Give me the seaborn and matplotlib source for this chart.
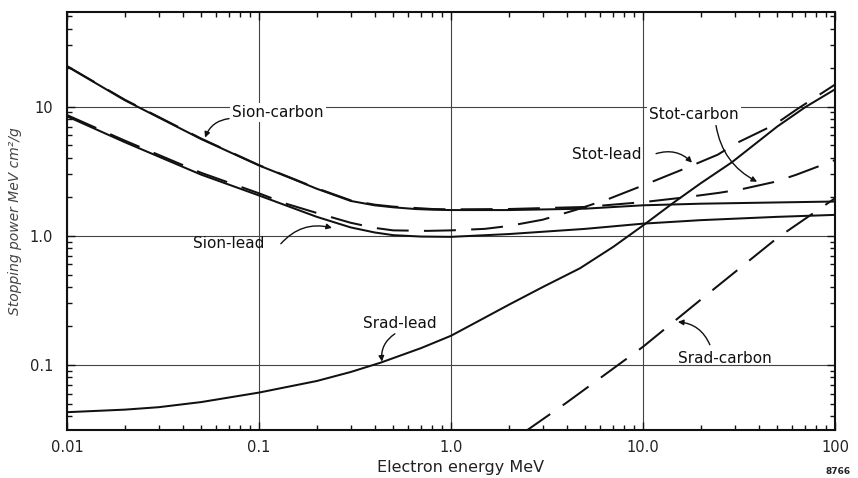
import matplotlib
matplotlib.use("Agg")
import numpy as np
import pandas as pd
import matplotlib.pyplot as plt
import seaborn as sns

# ---------------- data ----------------
energy_sion_carbon = [0.01, 0.02, 0.05, 0.1, 0.15, 0.2, 0.3, 0.4, 0.5, 0.65, 0.8, 1.0, 2.0, 5.0, 10, 20, 50, 100]
power_sion_carbon = [20.5, 11.2, 5.6, 3.5, 2.75, 2.31, 1.86, 1.72, 1.66, 1.61, 1.59, 1.58, 1.58, 1.62, 1.72, 1.77, 1.81, 1.84]

energy_stot_carbon = [0.01, 0.02, 0.05, 0.1, 0.15, 0.2, 0.3, 0.4, 0.5, 0.8, 1.0, 2.0, 5.0, 10, 16, 25, 33, 49, 63, 100]
power_stot_carbon = [20.6, 11.3, 5.65, 3.52, 2.77, 2.33, 1.88, 1.74, 1.68, 1.61, 1.60, 1.61, 1.67, 1.82, 1.97, 2.15, 2.30, 2.62, 2.97, 3.85]

energy_sion_lead = [0.01, 0.02, 0.05, 0.1, 0.15, 0.2, 0.3, 0.4, 0.5, 0.7, 1.0, 2.0, 5.0, 10, 20, 50, 100]
power_sion_lead = [8.4, 5.3, 2.97, 2.05, 1.64, 1.40, 1.16, 1.06, 1.01, 0.985, 0.98, 1.03, 1.13, 1.24, 1.32, 1.40, 1.45]

energy_stot_lead = [0.01, 0.02, 0.05, 0.1, 0.14, 0.2, 0.3, 0.4, 0.5, 0.75, 1.0, 1.5, 2.0, 3.0, 4.5,
                    6.7, 10, 16, 24.5, 31, 48.5, 63, 100]
power_stot_lead = [8.6, 5.45, 3.07, 2.13, 1.76, 1.50, 1.26, 1.15, 1.10, 1.09, 1.10, 1.13, 1.19, 1.33, 1.59,
                   1.94, 2.45, 3.25, 4.24, 5.25, 7.25, 9.48, 14.8]

energy_srad_lead = [0.01, 0.02, 0.03, 0.05, 0.1, 0.2, 0.3, 0.43, 0.7, 1.0, 1.5, 2.0, 3.0, 4.7, 7.0,
                    10, 14.4, 20, 29, 50, 70, 100]
power_srad_lead = [0.043, 0.045, 0.047, 0.0515, 0.061, 0.075, 0.088, 0.104, 0.135, 0.168, 0.232, 0.292,
                   0.40, 0.56, 0.82, 1.2, 1.8, 2.55, 3.7, 7.0, 9.9, 13.6]

energy_srad_carbon = [2.4, 4.0, 10, 20, 50, 100]
power_srad_carbon = [0.030, 0.051, 0.138, 0.32, 0.96, 1.95]

x_ticks = [0.01, 0.1, 1, 10, 100]
x_tick_labels = ["0.01", "0.1", "1.0", "10.0", "100"]
y_ticks = [0.1, 1, 10]
y_tick_labels = ["0.1", "1.0", "10"]

series = {
    "Sion-carbon": (energy_sion_carbon, power_sion_carbon),
    "Sion-lead": (energy_sion_lead, power_sion_lead),
    "Srad-lead": (energy_srad_lead, power_srad_lead),
    "Stot-carbon": (energy_stot_carbon, power_stot_carbon),
    "Stot-lead": (energy_stot_lead, power_stot_lead),
    "Srad-carbon": (energy_srad_carbon, power_srad_carbon),
}
frames = []
for name, (e, p) in series.items():
    frames.append(pd.DataFrame({"energy": e, "power": p, "series": name}))
df = pd.concat(frames, ignore_index=True)

# ---------------- figure ----------------
sns.set_theme(style="white")
plt.rcParams['font.family'] = ['DejaVu Sans']

W, H = 858, 478
fig = plt.figure(figsize=(W / 100, H / 100), dpi=100)
L, R, T, B = 67, 835, 12, 430
ax = fig.add_axes([L / W, (H - B) / H, (R - L) / W, (B - T) / H])
ax.set_xscale("log")
ax.set_yscale("log")

lw = 1.45
dash = (23 / lw, 11 / lw)
styles = {"Sion-carbon": "", "Sion-lead": "", "Srad-lead": "",
          "Stot-carbon": dash, "Stot-lead": dash, "Srad-carbon": dash}
palette = {k: "#111111" for k in series}

sns.lineplot(data=df, x="energy", y="power", hue="series", style="series",
             palette=palette, dashes=styles, sort=False, estimator=None,
             linewidth=lw, legend=False, ax=ax, zorder=3)

ax.set_xlim(0.01, 100)
ax.set_ylim(0.0313, 54)

ax.set_xticks(x_ticks, x_tick_labels)
ax.set_yticks(y_ticks, y_tick_labels)
ax.xaxis.set_minor_locator(matplotlib.ticker.LogLocator(base=10, subs=np.arange(2, 10)))
ax.yaxis.set_minor_locator(matplotlib.ticker.LogLocator(base=10, subs=np.arange(2, 10)))
ax.xaxis.set_minor_formatter(matplotlib.ticker.NullFormatter())
ax.yaxis.set_minor_formatter(matplotlib.ticker.NullFormatter())

ax.tick_params(which="both", direction="in", top=True, right=True, bottom=True, left=True,
               color="#111111", width=1.0)
ax.tick_params(which="major", length=6)
ax.tick_params(which="minor", length=3.5)
ax.tick_params(axis="x", which="major", labelsize=10.5, pad=7, labelcolor="#222222")
ax.tick_params(axis="y", which="major", labelsize=10.5, pad=10, labelcolor="#222222")

for s in ax.spines.values():
    s.set_color("#111111")
    s.set_linewidth(1.5)

ax.grid(True, which="major", color="#444444", linewidth=0.8)
ax.set_axisbelow(True)

ax.set_xlabel("Electron energy MeV", fontsize=11.5, color="#222222")
ax.xaxis.set_label_coords(0.512, -0.072)
ax.set_ylabel("Stopping power MeV cm²/g", fontsize=10, style="italic", color="#444444")
ax.yaxis.set_label_coords(-0.058, 0.50)

# ---------------- annotations ----------------
lab_kw = dict(fontsize=11, color="#111111", ha="left", va="center", zorder=5)
box = dict(facecolor="white", edgecolor="none", pad=1.5)
ax.text(0.0723, 8.98, "Sion-carbon", bbox=box, **lab_kw)
ax.text(0.0453, 0.867, "Sion-lead", **lab_kw)
ax.text(0.347, 0.208, "Srad-lead", **lab_kw)
ax.text(15.2, 0.113, "Srad-carbon", **lab_kw)
ax.text(10.8, 8.67, "Stot-carbon", bbox=box, **lab_kw)
ax.text(4.27, 4.24, "Stot-lead", **lab_kw)

arrows = [
    ((0.0698, 8.07), (0.0524, 5.75), 0.3),
    ((0.130, 0.867), (0.240, 1.15), -0.3),
    ((0.51, 0.174), (0.437, 0.106), 0.3),
    ((22.3, 0.143), (15.2, 0.215), 0.3),
    ((24.0, 7.13), (39.3, 2.62), 0.25),
    ((11.7, 4.32), (18.0, 3.68), -0.3),
]
for tail, tip, rad in arrows:
    ax.annotate("", xy=tip, xytext=tail,
                arrowprops=dict(arrowstyle="-|>", color="#111111", lw=1.0, mutation_scale=8,
                                shrinkA=0, shrinkB=0, connectionstyle=f"arc3,rad={rad}"),
                zorder=5)

fig.text(838 / W, 1 - 472 / H, "8766", fontsize=6.5, weight="bold", ha="center", va="center",
         color="#222222")

fig.savefig("out.png", dpi=100, facecolor="white")
